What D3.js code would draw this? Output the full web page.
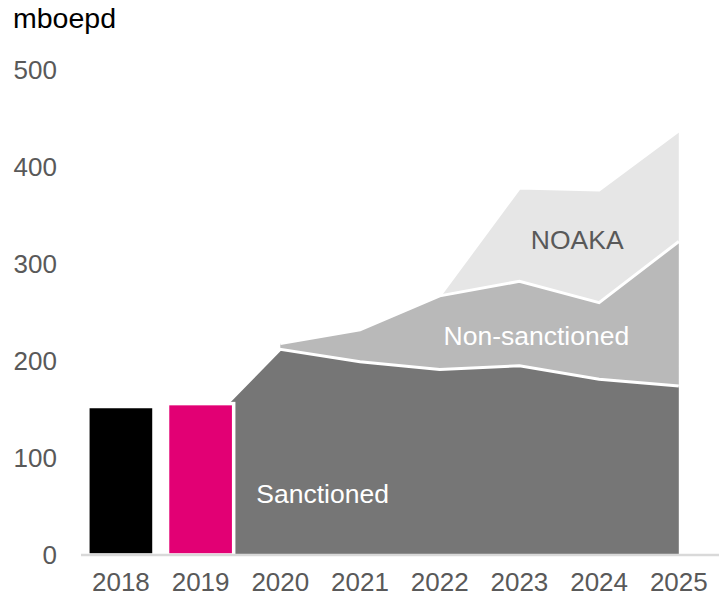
<!DOCTYPE html>
<html>
<head>
<meta charset="utf-8">
<script src="https://cdn.jsdelivr.net/npm/d3@7/dist/d3.min.js"></script>
<style>
  html, body { margin: 0; padding: 0; background: #ffffff; }
  svg { display: block; font-family: Arial, "Liberation Sans", sans-serif; }
</style>
</head>
<body>
<svg id="chart" width="723" height="598"></svg>
<script>
// ---- data ----
const years = ["2018", "2019", "2020", "2021", "2022", "2023", "2024", "2025"];
const histYears = ["2018", "2019"];
const histValues = [153, 156];
const histColors = ["#000000", "#e20074"];
const sanctioned    = [null, 128, 212, 199, 191, 195, 181, 174];
const nonSanctioned = [null, null, 6, 33, 76, 87, 79, 149];
const noaka         = [null, null, null, null, 0, 96, 116, 114];
const yTicks = [0, 100, 200, 300, 400, 500];
const unitLabel = "mboepd";
const seriesNames = ["Sanctioned", "Non-sanctioned", "NOAKA"];
const seriesColors = ["#767676", "#b9b9b9", "#e6e6e6"];

// ---- scales ----
const svg = d3.select("#chart");
const x = d3.scaleBand().domain(years).range([81, 718.7]).paddingInner(0.17).paddingOuter(0.0856);
const y = d3.scaleLinear().domain([0, 500]).range([555, 69.7]);
const cx = d => x(d) + x.bandwidth() / 2;

// ---- stacked area data ----
const rows = years.map((yr, i) => {
  const s = sanctioned[i];
  const n = nonSanctioned[i];
  const k = noaka[i];
  return {
    year: yr,
    s0: 0, s1: s,
    n0: s, n1: (s != null && n != null) ? s + n : null,
    k0: (s != null && n != null) ? s + n : null,
    k1: (s != null && n != null && k != null) ? s + n + k : null
  };
});

const layers = [
  { key: "s", lo: "s0", hi: "s1", color: seriesColors[0] },
  { key: "n", lo: "n0", hi: "n1", color: seriesColors[1] },
  { key: "k", lo: "k0", hi: "k1", color: seriesColors[2] }
];

const gAreas = svg.append("g");
layers.forEach(L => {
  const pts = rows.filter(r => r[L.hi] != null);
  const area = d3.area()
    .x(r => cx(r.year))
    .y0(r => y(r[L.lo]))
    .y1(r => y(r[L.hi]));
  const line = d3.line()
    .x(r => cx(r.year))
    .y(r => y(r[L.hi]));
  gAreas.append("path").datum(pts).attr("d", area).attr("fill", L.color);
  L.linePts = pts;
  L.line = line;
});
// white separating lines on top edges
layers.forEach(L => {
  gAreas.append("path").datum(L.linePts).attr("d", L.line)
    .attr("fill", "none").attr("stroke", "#ffffff").attr("stroke-width", 3)
    .attr("stroke-linejoin", "miter");
});

// ---- historical bars ----
svg.append("g").selectAll("rect")
  .data(histYears.map((yr, i) => ({ year: yr, v: histValues[i], c: histColors[i] })))
  .join("rect")
  .attr("x", d => x(d.year))
  .attr("width", x.bandwidth())
  .attr("y", d => y(d.v))
  .attr("height", d => y(0) - y(d.v))
  .attr("fill", d => d.c)
  .attr("stroke", "#ffffff")
  .attr("stroke-width", 3.5);

// ---- axis line ----
svg.append("line")
  .attr("x1", 81).attr("x2", 719)
  .attr("y1", y(0)).attr("y2", y(0))
  .attr("stroke", "#d9d9d9").attr("stroke-width", 2.5);

// ---- y tick labels ----
svg.append("g").selectAll("text")
  .data(yTicks).join("text")
  .attr("x", 57)
  .attr("y", d => y(d))
  .attr("dy", "0.35em")
  .attr("text-anchor", "end")
  .attr("font-size", 26)
  .attr("fill", "#595959")
  .text(d => d);

// ---- x tick labels ----
svg.append("g").selectAll("text")
  .data(years).join("text")
  .attr("x", d => cx(d))
  .attr("y", 591)
  .attr("text-anchor", "middle")
  .attr("font-size", 26)
  .attr("fill", "#595959")
  .text(d => d);

// ---- unit label ----
svg.append("text")
  .attr("x", 13).attr("y", 28)
  .attr("font-size", 28.5)
  .attr("fill", "#000000")
  .text(unitLabel);

// ---- series labels ----
svg.append("text")
  .attr("x", cx("2020") - 24).attr("y", y(63)).attr("dy", "0.35em")
  .attr("font-size", 26.5).attr("fill", "#ffffff")
  .text(seriesNames[0]);
svg.append("text")
  .attr("x", cx("2023") + 17).attr("y", y(225.6)).attr("dy", "0.35em")
  .attr("text-anchor", "middle")
  .attr("font-size", 26.5).attr("fill", "#ffffff")
  .text(seriesNames[1]);
svg.append("text")
  .attr("x", (cx("2023") + cx("2024")) / 2 + 18).attr("y", y(324.5)).attr("dy", "0.35em")
  .attr("text-anchor", "middle")
  .attr("font-size", 26.5).attr("fill", "#595959")
  .text(seriesNames[2]);
</script>
</body>
</html>
